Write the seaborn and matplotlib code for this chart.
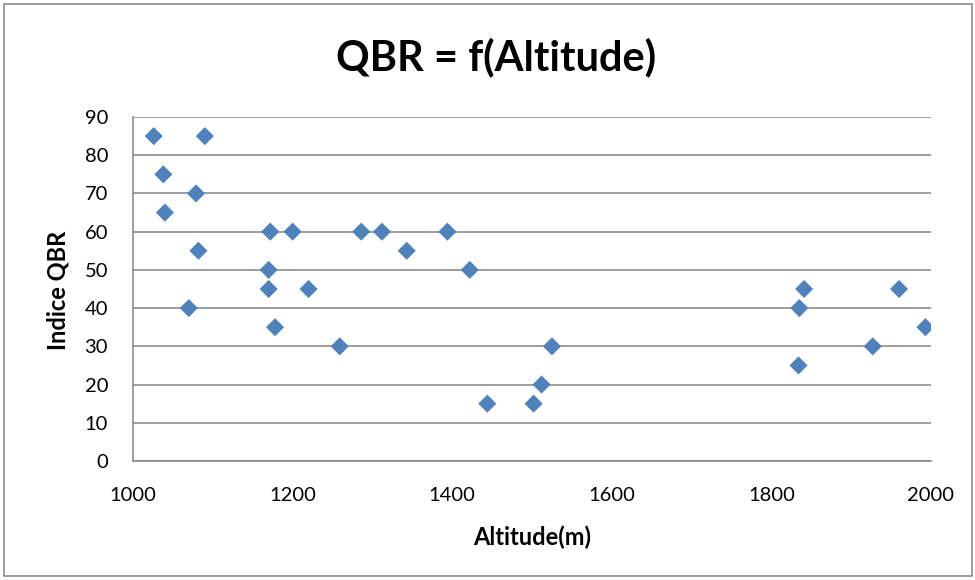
import matplotlib
matplotlib.use("Agg")
import matplotlib.pyplot as plt
import seaborn as sns
import pandas as pd
from matplotlib.patches import Rectangle

altitude = [1026, 1090, 1038, 1079, 1040, 1172, 1200, 1286, 1312, 1394,
            1082, 1343, 1170, 1422, 1170, 1220, 1070, 1178, 1259, 1525,
            1512, 1444, 1502, 1841, 1835, 1834, 1960, 1993, 1927]
qbr = [85, 85, 75, 70, 65, 60, 60, 60, 60, 60,
       55, 55, 50, 50, 45, 45, 40, 35, 30, 30,
       20, 15, 15, 45, 40, 25, 45, 35, 30]
x_ticks = [1000, 1200, 1400, 1600, 1800, 2000]
y_ticks = [0, 10, 20, 30, 40, 50, 60, 70, 80, 90]

df = pd.DataFrame({"Altitude": altitude, "QBR": qbr})

sns.set_theme(style="white")
plt.rcParams["font.family"] = ["Lato", "DejaVu Sans"]
plt.rcParams["text.color"] = "black"

fig = plt.figure(figsize=(9.75, 5.8), dpi=100)
ax = fig.add_axes([133/975, 1-461/580, (931-133)/975, (461-117)/580])

sns.scatterplot(data=df, x="Altitude", y="QBR", ax=ax, marker="D", s=85,
                color="#4F81BD", edgecolor="none", linewidth=0, zorder=3)

ax.set_xlim(1000, 2000)
ax.set_ylim(0, 90)
ax.set_xticks(x_ticks)
ax.set_yticks(y_ticks)
ax.tick_params(axis="x", labelsize=14.5, length=0, pad=19, colors="black")
ax.tick_params(axis="y", labelsize=14.5, length=0, pad=18, colors="black")
ax.yaxis.grid(True, color="#8C8C8C", linewidth=1.2)
ax.xaxis.grid(False)
for side in ["top", "right"]:
    ax.spines[side].set_visible(False)
for side in ["left", "bottom"]:
    ax.spines[side].set_color("#8C8C8C")
    ax.spines[side].set_linewidth(1.2)

ax.set_xlabel("Altitude(m)", fontsize=17, fontweight="bold", color="black")
ax.set_ylabel("Indice QBR", fontsize=17, fontweight="bold", color="black")
ax.xaxis.label.set_verticalalignment("center")
ax.yaxis.label.set_verticalalignment("center")
ax.xaxis.set_label_coords((532 - 133) / 798, (461 - 537) / 344)
ax.yaxis.set_label_coords((58 - 133) / 798, (461 - 290) / 344)

fig.text(496/975, 1-57/580, "QBR = f(Altitude)", ha="center", va="center",
         fontsize=30, fontweight="bold", color="black")

fig.patches.append(Rectangle((4/975, 4/580), 968/975, 572/580, transform=fig.transFigure,
                             fill=False, edgecolor="#8C8C8C", linewidth=1.2))

fig.savefig("out.png", dpi=100)
